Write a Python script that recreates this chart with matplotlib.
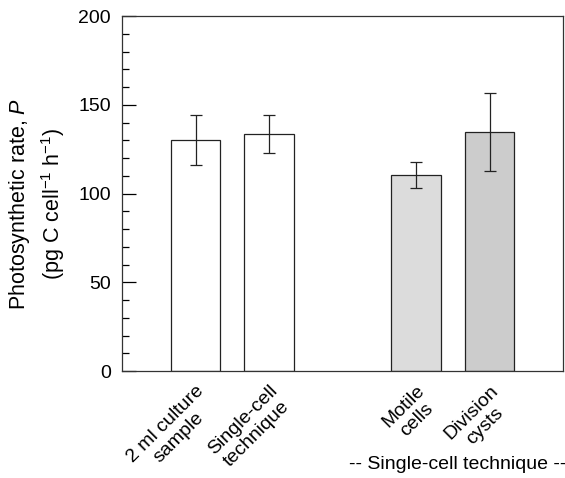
import matplotlib
matplotlib.use("Agg")
import matplotlib.pyplot as plt
from matplotlib.ticker import MultipleLocator

plt.rcParams['font.family'] = ['Liberation Sans', 'DejaVu Sans']
plt.rcParams['mathtext.fontset'] = 'custom'
plt.rcParams['mathtext.rm'] = 'Liberation Sans'
plt.rcParams['mathtext.it'] = 'Liberation Sans:italic'
plt.rcParams['mathtext.bf'] = 'Liberation Sans:bold'

categories = ["2 ml culture\nsample", "Single-cell\ntechnique", "Motile\ncells", "Division\ncysts"]
positions = [0, 1, 3, 4]
values = [130, 133.5, 110.5, 134.5]
errors = [14, 10.5, 7.5, 22]
colors = ["white", "white", "#dcdcdc", "#cccccc"]
group_label = "-- Single-cell technique --"

fig = plt.figure(figsize=(5.65, 4.78), dpi=100)
ax = fig.add_axes([0.216, 0.2238, 0.7805, 0.7427])

ax.bar(positions, values, width=0.67, color=colors, edgecolor="#222222", linewidth=0.9, zorder=2)
ax.errorbar(positions, values, yerr=errors, fmt="none", ecolor="#222222", elinewidth=0.9,
            capsize=4, capthick=0.9, zorder=3)

ax.set_xlim(-1, 5)
ax.set_ylim(0, 200)
ax.yaxis.set_major_locator(MultipleLocator(50))
ax.yaxis.set_minor_locator(MultipleLocator(10))
ax.tick_params(axis="y", which="major", direction="in", length=10, width=0.9, labelsize=14, pad=8)
ax.tick_params(axis="y", which="minor", direction="in", length=5, width=0.9)
ax.tick_params(axis="x", length=0, pad=8)
ax.set_xticks(positions)
ax.set_xticklabels(categories, rotation=45, ha="right", va="top", rotation_mode="anchor",
                   multialignment="center", fontsize=14, linespacing=1.15)
for s in ax.spines.values():
    s.set_linewidth(0.9)
    s.set_color("#333333")

ax.set_ylabel("Photosynthetic rate, $\\mathit{P}$\n(pg C cell$^{\\mathrm{-1}}$ h$^{\\mathrm{-1}}$)",
              fontsize=15.5, linespacing=1.35)
ax.yaxis.set_label_coords(-0.125, 0.47)

fig.text(0.81, 0.01, group_label, ha="center", va="bottom", fontsize=14)

fig.savefig("out.png", dpi=100)
